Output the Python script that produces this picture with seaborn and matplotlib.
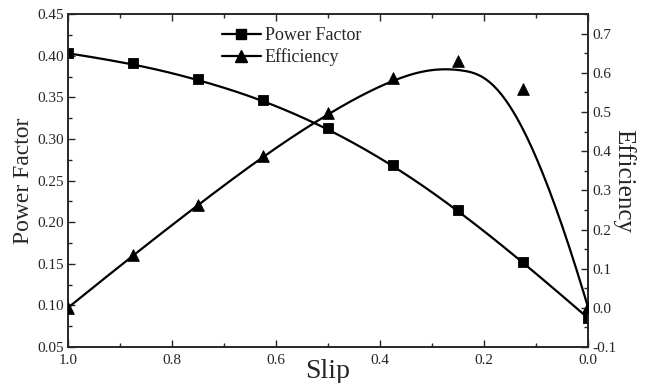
import numpy as np
import pandas as pd
import matplotlib
matplotlib.use("Agg")
import matplotlib.pyplot as plt
from matplotlib.lines import Line2D
from matplotlib.ticker import MultipleLocator
import seaborn as sns

# datos
slip = [1.0, 0.875, 0.75, 0.625, 0.5, 0.375, 0.25, 0.125, 0.0]
power_factor = [0.403, 0.391, 0.372, 0.347, 0.313, 0.269, 0.215, 0.1525, 0.085]
efficiency = [0.0, 0.134, 0.263, 0.387, 0.497, 0.587, 0.631, 0.559, 0.003]


# curva B-spline cubica (puntos como puntos de control, como en Origin)
def bspline(xs, ys, n=300, k=3):
    P = np.column_stack([xs, ys])
    m = len(P)
    knots = np.concatenate([np.zeros(k), np.linspace(0, 1, m - k + 1), np.ones(k)])
    t = np.linspace(0, 1, n)
    t[-1] = 1 - 1e-10

    def N(i, p, u):
        if p == 0:
            return ((knots[i] <= u) & (u < knots[i + 1])).astype(float)
        a = 0.0
        b = 0.0
        d1 = knots[i + p] - knots[i]
        d2 = knots[i + p + 1] - knots[i + 1]
        if d1 > 0:
            a = (u - knots[i]) / d1 * N(i, p - 1, u)
        if d2 > 0:
            b = (knots[i + p + 1] - u) / d2 * N(i + 1, p - 1, u)
        return a + b

    out = np.zeros((n, 2))
    for i in range(m):
        out += N(i, k, t)[:, None] * P[i]
    return out[:, 0], out[:, 1]


sns.set_style("ticks")
plt.rcParams["font.family"] = ["Liberation Serif", "DejaVu Serif"]
plt.rcParams["xtick.direction"] = "in"
plt.rcParams["ytick.direction"] = "in"

fig = plt.figure(figsize=(6.46, 3.83), dpi=100)
ax = fig.add_axes([0.105, 0.094, 0.805, 0.869])
ax2 = ax.twinx()

px, py = bspline(slip, power_factor)
ex, ey = bspline(slip, efficiency)
sns.lineplot(x=px, y=py, ax=ax, color="black", lw=1.6, sort=False, estimator=None)
sns.scatterplot(x=slip, y=power_factor, ax=ax, marker="s", s=55, color="black",
                edgecolor="black", zorder=5)
sns.lineplot(x=ex, y=ey, ax=ax2, color="black", lw=1.6, sort=False, estimator=None)
sns.scatterplot(x=slip, y=efficiency, ax=ax2, marker="^", s=70, color="black",
                edgecolor="black", zorder=5)

ax.set_xlim(1.0, 0.0)
ax.set_ylim(0.05, 0.45)
ax2.set_ylim(-0.1, 0.75)
ax.xaxis.set_major_locator(MultipleLocator(0.2))
ax.xaxis.set_minor_locator(MultipleLocator(0.1))
ax.yaxis.set_major_locator(MultipleLocator(0.05))
ax.yaxis.set_minor_locator(MultipleLocator(0.025))
ax2.yaxis.set_major_locator(MultipleLocator(0.1))
ax2.yaxis.set_minor_locator(MultipleLocator(0.05))
ax.set_xticks([1.0, 0.8, 0.6, 0.4, 0.2, 0.0])
ax.set_xticklabels(["1.0", "0.8", "0.6", "0.4", "0.2", "0.0"])
ax.yaxis.set_major_formatter(matplotlib.ticker.FormatStrFormatter("%.2f"))
ax2.yaxis.set_major_formatter(matplotlib.ticker.FormatStrFormatter("%.1f"))

ax.tick_params(axis="both", which="major", length=5, width=1, labelsize=11, top=True)
ax.tick_params(axis="both", which="minor", length=3, width=1, top=True)
ax.tick_params(axis="x", pad=5)
ax.tick_params(axis="y", pad=3)
ax2.tick_params(axis="y", which="major", length=5, width=1, labelsize=11, pad=3)
ax2.tick_params(axis="y", which="minor", length=3, width=1)
for a in (ax, ax2):
    for s in a.spines.values():
        s.set_linewidth(1.2)
        s.set_visible(True)

ax.set_xlabel("Slip", fontsize=20, labelpad=-6)
ax.set_ylabel("Power Factor", fontsize=17, labelpad=2)
ax2.set_ylabel("Efficiency", fontsize=18, rotation=270, labelpad=14)

handles = [
    Line2D([], [], color="black", lw=1.6, marker="s", markersize=7),
    Line2D([], [], color="black", lw=1.6, marker="^", markersize=8),
]
ax.legend(handles, ["Power Factor", "Efficiency"], loc="upper center",
          bbox_to_anchor=(0.43, 1.01), frameon=False, fontsize=13,
          handlelength=2.2, handletextpad=0.2, labelspacing=0.25)

fig.savefig("out.png", dpi=100)
